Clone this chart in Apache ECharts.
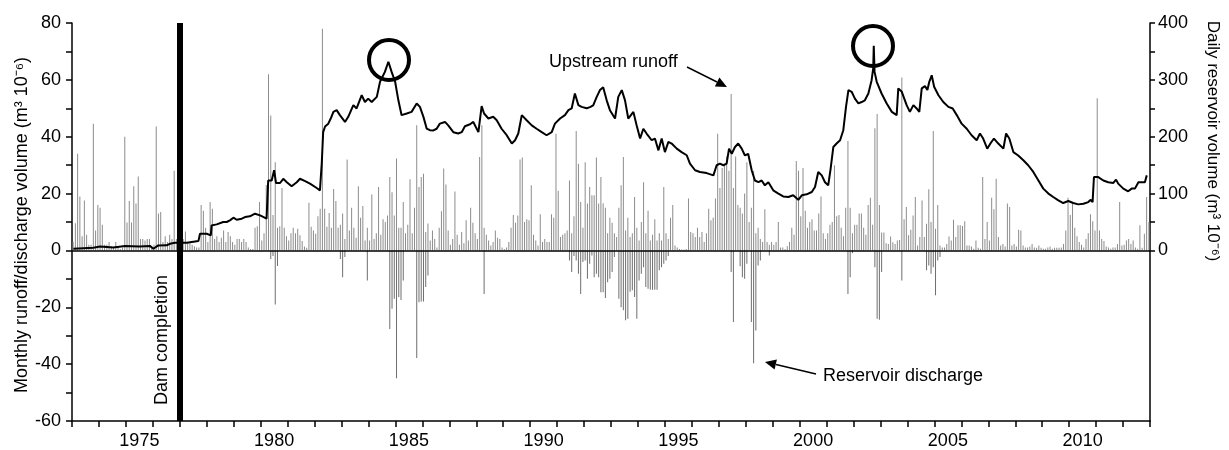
<!DOCTYPE html>
<html><head><meta charset="utf-8">
<script src="https://cdn.jsdelivr.net/npm/echarts@6/dist/echarts.min.js"></script>
<style>html,body{margin:0;padding:0;background:#fff}#c{width:1229px;height:450px}</style>
</head><body><div id="c"></div>
<script>
// Monthly upstream runoff (m3 10^-6), Jan 1973 .. Dec 2012
const runoff1973to1982 = [
 3, 9.6, 34, 19, 5, 17.6, 5.5, 2, 2, 44.6, 7, 16,
 15, 9, 2, 2, 3, 1.5, 1, 3, 1.5, 0.5, 1, 40,
 9.8, 17.4, 9.8, 22.6, 16.5, 26, 4, 4, 3.5, 4, 4, 1,
 2, 43.6, 13, 13.5, 3, 5, 3, 5.5, 4, 28, 4, 3,
 3, 4, 6.7, 3, 2.5, 2, 1.5, 1, 1, 16, 14, 8,
 3, 17, 14.7, 4, 5, 3, 4.5, 7, 3, 6.5, 5, 3,
 2, 4, 4, 3, 4, 3, 1, 0.5, 0.5, 8, 8.5, 17,
 3.5, 6, 23, 62, 47.5, 12.5, 31, 8, 8.5, 22, 8, 5,
 3.5, 6, 8, 6, 7.6, 5.3, 3.3, 1.4, 0.9, 16.8, 8.3, 7,
 5.9, 12, 14.7, 78, 14.7, 8.3, 13.2, 8, 21.6, 17.4, 8, 9
];
const runoff1983to1992 = [
 13, 4, 32, 7, 15, 8, 4.5, 22.6, 11.5, 15.6, 3.5, 8,
 3.5, 19.7, 4, 6, 22.3, 5.5, 11, 10, 12.3, 25.8, 20.5, 12.3,
 32.3, 8, 8, 17, 6, 9, 25, 6, 15, 44, 22.3, 25.8,
 27, 6.5, 9.5, 3.5, 7, 4, 1, 8, 13.8, 28.8, 23.2, 7,
 2, 4, 20.7, 5.5, 2, 6.5, 2.5, 10.6, 3.5, 15, 9.7, 6,
 4, 32.9, 44, 8, 5.5, 3.5, 1.7, 3, 7, 4.5, 4, 1,
 0.5, 1, 3, 8, 12.5, 9.7, 12.3, 32, 32.7, 10, 11, 10.6,
 22.9, 5.5, 3.5, 1.7, 12.7, 3, 4, 3, 3, 12.7, 11.5, 41,
 21, 4.7, 5.5, 6, 7, 24.6, 6, 12, 42, 30.5, 17, 8,
 31, 16.5, 22.3, 19.4, 19.4, 32.7, 16.5, 25.8, 16.6, 15, 6, 11.5
];
const runoff1993to2002 = [
 9.7, 6, 4.7, 15, 22.9, 32.9, 7, 11.5, 4.7, 6, 18.8, 8,
 3.5, 10, 24, 6, 14, 3.5, 5.5, 11, 3.5, 6, 3.5, 22.3,
 6, 4, 11.5, 16, 1.7, 1, 0.5, 0.3, 0.3, 0.5, 18.3, 6.5,
 6, 4.7, 8, 4.7, 6.5, 3, 6, 14.7, 10.6, 11.5, 18.3, 41,
 22, 29, 30, 33, 28, 55, 22, 33, 16, 15, 13, 20,
 31, 10, 15, 28, 6, 8, 4, 3, 14.5, 3, 2, 3,
 2, 3, 10, 1, 1, 0.5, 1.5, 3, 8, 5.5, 31.5, 28,
 12, 29, 14, 8, 10, 11, 7, 7, 13, 19, 6, 4,
 6, 9, 10, 30, 12, 12.5, 8, 5, 15, 38.5, 15, 6,
 9, 9, 13, 13, 8, 5.5, 16, 18.5, 9, 43, 48, 16
];
const runoff2003to2012 = [
 6.3, 6.3, 2.5, 2.3, 4.9, 2.9, 2.3, 3.5, 3.7, 60.8, 11, 15.3,
 5.3, 7.3, 12.3, 18.8, 1.7, 4.7, 17.6, 4.7, 9.4, 21.5, 10, 42,
 7.6, 16, 1.7, 1, 1, 2.3, 4.9, 3.5, 10.8, 4.7, 8.9, 8.9,
 8.6, 10.3, 1.7, 1.7, 1.4, 0.6, 3.5, 0.9, 0.6, 25.8, 4, 10,
 3.5, 18.5, 14.5, 25.2, 4.7, 1.7, 2.3, 1.4, 16.5, 15.3, 1.7, 2.3,
 1.4, 7.3, 7, 1.7, 1, 1, 1.4, 2.3, 1, 0.9, 1.7, 0.9,
 0.6, 0.6, 1, 1.4, 0.6, 0.9, 0.9, 0.9, 1, 2.3, 7, 18.5,
 12.5, 16.5, 8, 5, 3, 2, 1, 4, 6, 12.7, 10.3, 7,
 53.5, 7, 4, 3.3, 1.4, 1, 0.6, 1, 1, 2.3, 17, 1.7,
 2, 3.5, 4, 2.3, 3.5, 1, 0.6, 8.9, 0.9, 5.9, 18.8, 10
];
// Reservoir discharge events: [first month index from Jan 1973, monthly values]
const dischargeEvents = [
 [88, [-3, -2, -19, -5.5]],
 [119, [-3, -9.4, -2.3]],
 [131, [-10.6]],
 [141, [-27.6, -20.5, -17, -45, -16.4, -17.4, -10.6]],
 [153, [-37.8, -18.2, -18, -18, -12.9, -8.8]],
 [183, [-15.3]],
 [221, [-3.5, -7.6, -2, -3.5, -8.2, -15.3, -4.1, -3.5, -10, -4.7, -1.8, -9.4, -8.2, -9.4, -14.7, -14.7, -16.7, -11.2, -10, -7.6, -2.3, 0, -17, -20, -21, -24.6, -24, -14.5, -14, -16.4, -24, -10.6, -8.2, -5.9, -12.9, -13.5, -13.8, -13.8, -13.8, -13.8, -7, -5.9, -4.7, -3.5, -2]],
 [293, [-7.6, -25.2, 0, 0, -5.6, -9.4, -10, -4.7, 0, -25.2, -39.7, -28.2, -5.3, -3.5]],
 [310, [-1.8]],
 [345, [-15.3, -9.4, -1]],
 [357, [-5.9, -24, -24.4, -7.6]],
 [369, [-10.6]],
 [380, [-7, -5.3, -8.2, -5.9, -15.8, -3.5, -2.3]]
];
// Daily reservoir volume (m3 10^-6), read at irregular dates
const volumeYears = [1973.05,1973.79,1974.04,1974.53,1974.97,1975.5,1975.89,1976.02,1976.2,1976.51,1976.64,1976.82,1977.26,1977.69,1977.75,1978.0,1978.15,1978.18,1978.37,1978.61,1978.74,1978.86,1978.99,1979.11,1979.3,1979.42,1979.6,1979.79,1979.98,1980.22,1980.28,1980.41,1980.5,1980.57,1980.72,1980.84,1980.97,1981.15,1981.34,1981.46,1981.65,1981.83,1982.08,1982.2,1982.27,1982.32,1982.39,1982.51,1982.6,1982.7,1982.82,1982.94,1983.13,1983.25,1983.44,1983.56,1983.75,1983.87,1983.99,1984.12,1984.31,1984.43,1984.61,1984.74,1984.86,1984.99,1985.11,1985.23,1985.42,1985.6,1985.79,1985.91,1986.04,1986.16,1986.28,1986.41,1986.53,1986.65,1986.84,1986.96,1987.15,1987.33,1987.46,1987.58,1987.77,1987.89,1988.08,1988.2,1988.29,1988.45,1988.63,1988.76,1988.94,1989.13,1989.32,1989.44,1989.56,1989.69,1989.87,1990.06,1990.24,1990.43,1990.61,1990.8,1990.92,1991.11,1991.29,1991.42,1991.54,1991.66,1991.79,1991.91,1992.1,1992.22,1992.34,1992.47,1992.59,1992.71,1992.84,1992.96,1993.15,1993.27,1993.4,1993.52,1993.64,1993.83,1993.95,1994.08,1994.2,1994.32,1994.51,1994.63,1994.76,1994.88,1995.0,1995.13,1995.25,1995.44,1995.62,1995.81,1995.93,1996.12,1996.3,1996.55,1996.8,1996.86,1996.92,1997.04,1997.17,1997.29,1997.38,1997.48,1997.6,1997.72,1997.85,1997.97,1998.09,1998.22,1998.34,1998.47,1998.59,1998.71,1998.84,1999.02,1999.21,1999.39,1999.58,1999.76,1999.95,2000.08,2000.26,2000.45,2000.57,2000.69,2000.82,2000.94,2001.06,2001.15,2001.25,2001.37,2001.5,2001.62,2001.72,2001.81,2001.93,2002.05,2002.18,2002.3,2002.42,2002.55,2002.67,2002.73,2002.75,2002.78,2002.86,2002.92,2003.04,2003.23,2003.42,2003.6,2003.66,2003.79,2003.97,2004.09,2004.22,2004.34,2004.44,2004.53,2004.65,2004.74,2004.81,2004.9,2004.99,2005.15,2005.33,2005.52,2005.68,2005.83,2006.01,2006.2,2006.38,2006.57,2006.69,2006.81,2006.96,2007.09,2007.21,2007.37,2007.56,2007.66,2007.78,2007.93,2008.11,2008.3,2008.48,2008.67,2008.86,2009.04,2009.23,2009.41,2009.6,2009.78,2009.97,2010.15,2010.34,2010.53,2010.71,2010.8,2010.87,2010.92,2011.08,2011.27,2011.45,2011.64,2011.74,2011.82,2012.01,2012.19,2012.32,2012.44,2012.57,2012.7,2012.81,2012.88];
const volumeValues = [3,4.7,7,5,7.6,7,8,3,8.8,9,11.7,13.5,13.5,16.4,29.4,29.4,26.4,44,45.8,50,50,52.9,57.6,54,55.8,58.7,60,64.6,61.7,55.8,123,123,141,118.6,118.6,126,120,113,120,126,122,117.5,109.8,105.7,155.6,208,218,223,232,243.7,246.7,238,226,235,255.5,249.7,273,261,267,261,270,296.6,314,331.8,314,296.6,264,237.9,240.8,243.7,258.5,252.5,234.9,214.4,211.4,211,214,223,226,220,208,205.6,208,218.5,222,226,208,253.7,240.8,232,235,229,214,202.6,188,193.8,205.6,237.9,229,220,214,208,202.6,208,223,232,238,246.7,249.7,276,255.5,252.5,250,252,255,270,282,287,264,246.7,232,270,282,264,232,243.7,220,196.8,214,205.6,193.8,196.8,176,196.8,173,190.8,188,179,173,167.4,152.7,141,138,136,132,129,149.8,152.7,149.8,152.7,179,170,182,188,179,167,170,141,123,120,123,114.5,120,105.7,100,95,94,97,89,97,98.7,102.7,111.5,138,132,120,114.5,144,182,188,193.8,211.4,252.5,282,279,267,258.5,261,264,276,299.5,320,360,314,296.6,293.6,276,258.5,243.7,238,285,279,255.5,243.7,255.5,249.7,243.7,285,289,282,296.6,308,287.8,273,261,252.5,249.7,238,223,214,202.6,193.8,205.6,196.8,179,189,196.8,188,179,205.6,196.8,173,167,158.6,149.8,138,123,108.7,100,94,88,83.4,86.9,83.4,81,82,85,89,85,129,129,123,120,118.6,124.5,117.5,108.7,104,108.7,108.7,120,120,120,132];
// Axis ticks / labels
const xLabelYears = [1975, 1980, 1985, 1990, 1995, 2000, 2005, 2010];
const rightAxisLabels = [0, 100, 200, 300, 400];
const damYear = 1977;

const FONT = '"Liberation Sans", Arial, sans-serif';
const runoff = [].concat(runoff1973to1982, runoff1983to1992, runoff1993to2002, runoff2003to2012);
const monthX = i => 1973 + (i + 0.5) / 12;
const runoffData = runoff.map((v, i) => [monthX(i), v]);
const dischargeData = [];
dischargeEvents.forEach(([start, vals]) => vals.forEach((v, k) => { if (v !== 0) dischargeData.push([monthX(start + k), v]); }));
const volumeData = volumeYears.map((y, i) => [y, volumeValues[i]]);

const yearTicks = []; for (let y = 1973; y <= 2013; y++) yearTicks.push(y);
const rightTicks = []; for (let v = 0; v <= 400; v += 50) rightTicks.push(v);

const chart = echarts.init(document.getElementById('c'), null, {renderer: 'canvas'});
const black = '#000';
chart.setOption({
  animation: false,
  backgroundColor: '#fff',
  textStyle: {fontFamily: FONT},
  grid: {left: 72, right: 79, top: 23, bottom: 29, containLabel: false, outerBoundsMode: 'none'},
  xAxis: {
    type: 'value', min: 1973, max: 2013,
    axisLine: {show: true, onZero: false, lineStyle: {color: black, width: 1.5}},
    axisTick: {show: true, length: 6, customValues: yearTicks, lineStyle: {color: black, width: 1.5}},
    axisLabel: {show: true, customValues: xLabelYears.map(y => y + 0.5), formatter: v => String(Math.floor(v)),
      color: black, fontSize: 18, margin: 11, fontFamily: FONT},
    splitLine: {show: false}
  },
  yAxis: [{
    type: 'value', min: -60, max: 80, interval: 10,
    axisLine: {show: true, onZero: false, lineStyle: {color: black, width: 1.5}},
    axisTick: {show: true, length: 6, lineStyle: {color: black, width: 1.5}},
    axisLabel: {color: black, fontSize: 18, margin: 11, fontFamily: FONT,
      formatter: v => (Math.round(v) % 20 === 0 ? String(v) : '')},
    splitLine: {show: false}
  }, {
    type: 'value', min: -300, max: 400, position: 'right',
    axisLine: {show: true, onZero: false, lineStyle: {color: black, width: 1.5}},
    axisTick: {show: true, length: 5, customValues: rightTicks, lineStyle: {color: black, width: 1.5}},
    axisLabel: {color: black, fontSize: 18, margin: 8, fontFamily: FONT, customValues: rightAxisLabels},
    splitLine: {show: false}
  }],
  series: [{
    name: 'Upstream runoff', type: 'bar', data: runoffData, barWidth: 1, barGap: '-100%',
    itemStyle: {color: '#8c8c8c'}, z: 2
  }, {
    name: 'Reservoir discharge', type: 'bar', data: dischargeData, barWidth: 1, barGap: '-100%',
    itemStyle: {color: '#6e6e6e'}, z: 2
  }, {
    name: 'Daily reservoir volume', type: 'line', yAxisIndex: 1, data: volumeData,
    showSymbol: false, symbol: 'none', lineStyle: {color: black, width: 2}, z: 3,
    markLine: {
      silent: true, symbol: 'none', label: {show: false}, animation: false,
      data: [
        {yAxis: 0, lineStyle: {color: black, width: 1.5, type: 'solid'}},
        {xAxis: damYear, lineStyle: {color: black, width: 6, type: 'solid'}}
      ]
    }
  }],
  graphic: [
    {type: 'text', x: 22, y: 225, rotation: Math.PI / 2,
      style: {text: 'Monthly runoff/discharge volume (m³ 10⁻⁶)', fill: black, font: '18px ' + FONT, textAlign: 'center', textVerticalAlign: 'middle'}},
    {type: 'text', x: 1213, y: 141, rotation: -Math.PI / 2,
      style: {text: 'Daily reservoir volume (m³ 10⁻⁶)', fill: black, font: '17px ' + FONT, textAlign: 'center', textVerticalAlign: 'middle'}},
    {type: 'text', x: 162, y: 340, rotation: Math.PI / 2,
      style: {text: 'Dam completion', fill: black, font: '18px ' + FONT, textAlign: 'center', textVerticalAlign: 'middle'}},
    {type: 'text', x: 549, y: 62,
      style: {text: 'Upstream runoff', fill: black, font: '18px ' + FONT, textAlign: 'left', textVerticalAlign: 'middle'}},
    {type: 'text', x: 823, y: 376,
      style: {text: 'Reservoir discharge', fill: black, font: '18px ' + FONT, textAlign: 'left', textVerticalAlign: 'middle'}},
    {type: 'line', shape: {x1: 687, y1: 67, x2: 717, y2: 82}, style: {stroke: black, lineWidth: 1.5}},
    {type: 'polygon', shape: {points: [[727, 87], [714.9, 86.6], [719.4, 77.6]]}, style: {fill: black}},
    {type: 'line', shape: {x1: 816, y1: 374, x2: 776, y2: 364.5}, style: {stroke: black, lineWidth: 1.5}},
    {type: 'polygon', shape: {points: [[765, 362], [776.9, 359.6], [774.6, 369.4]]}, style: {fill: black}},
    {type: 'circle', shape: {cx: 389, cy: 60, r: 20}, style: {fill: 'none', stroke: black, lineWidth: 4}},
    {type: 'circle', shape: {cx: 873, cy: 46, r: 20}, style: {fill: 'none', stroke: black, lineWidth: 4}}
  ]
});
</script>
</body></html>
